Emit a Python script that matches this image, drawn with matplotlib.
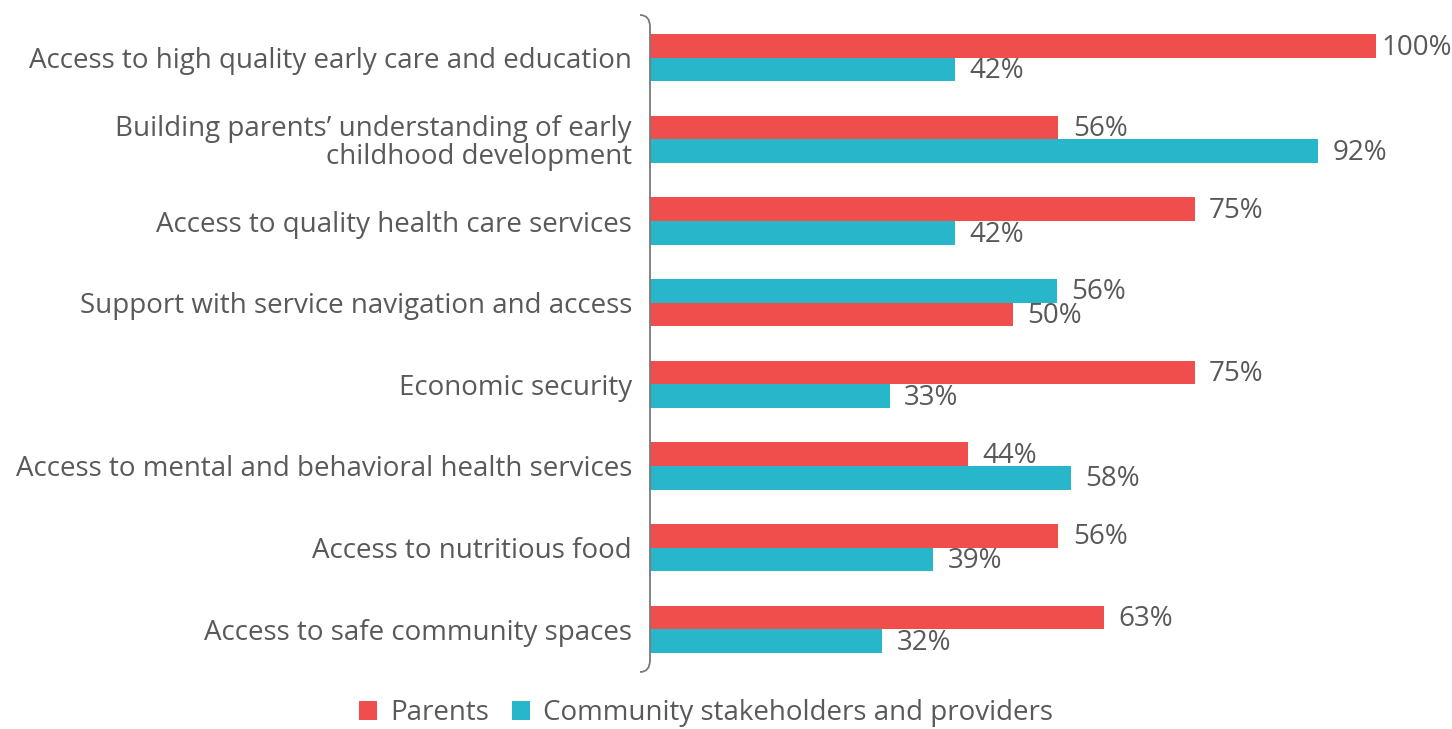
import matplotlib
matplotlib.use("Agg")
import matplotlib.pyplot as plt
from matplotlib.path import Path
from matplotlib.patches import PathPatch, Patch

categories = [
    "Access to high quality early care and education",
    "Building parents’ understanding of early\nchildhood development",
    "Access to quality health care services",
    "Support with service navigation and access",
    "Economic security",
    "Access to mental and behavioral health services",
    "Access to nutritious food",
    "Access to safe community spaces",
]
parents = [100, 56.25, 75, 50, 75, 43.75, 56.25, 62.5]
community = [42, 92, 42, 56, 33, 58, 39, 32]
# which series sits on top in each group (the reference swaps one group)
parents_on_top = [True, True, True, False, True, True, True, True]
series_names = ["Parents", "Community stakeholders and providers"]

RED = "#F04D4D"
CYAN = "#27B6CA"
TXT = "#595959"
FONT = "Open Sans"
FS = 20

W, H = 1452, 729
fig = plt.figure(figsize=(W / 100, H / 100), dpi=100)
ax_left, ax_right = 650, 1376
ax_top, ax_bot = 17, 670
ax = fig.add_axes([ax_left / W, 1 - ax_bot / H, (ax_right - ax_left) / W, (ax_bot - ax_top) / H])

bh = 0.29
for i, (p, c, top) in enumerate(zip(parents, community, parents_on_top)):
    yp = i - bh / 2 if top else i + bh / 2
    yc = i + bh / 2 if top else i - bh / 2
    ax.barh(yp, p, height=bh, color=RED, edgecolor="none")
    ax.barh(yc, c, height=bh, color=CYAN, edgecolor="none")
    gp = 0.7 if p >= 100 else 2.0
    ax.text(p + gp, yp + 0.02, f"{int(p + 0.5)}%", va="center", ha="left",
            fontsize=FS, color=TXT, family=FONT, clip_on=False)
    ax.text(c + 2.0, yc + 0.02, f"{int(c + 0.5)}%", va="center", ha="left",
            fontsize=FS, color=TXT, family=FONT, clip_on=False)

ax.set_xlim(0, 100)
ax.set_ylim(len(categories) - 0.5, -0.5)
ax.set_yticks(range(len(categories)))
ax.set_yticklabels(categories, fontsize=FS, color=TXT, family=FONT, linespacing=1.0)
ax.tick_params(axis="y", length=0, pad=13)
ax.set_xticks([])
for s in ax.spines.values():
    s.set_visible(False)

# bracket-like left axis line
def fx(px):
    return px / W

def fy(py):
    return 1 - py / H

verts = [(fx(640), fy(15)), (fx(650), fy(15)), (fx(650), fy(27)),
         (fx(650), fy(660)), (fx(650), fy(672)), (fx(640), fy(672))]
codes = [Path.MOVETO, Path.CURVE3, Path.CURVE3, Path.LINETO, Path.CURVE3, Path.CURVE3]
fig.add_artist(PathPatch(Path(verts, codes), transform=fig.transFigure,
                         facecolor="none", edgecolor="#7a7a7a", lw=1.3))

handles = [Patch(facecolor=RED, edgecolor="none"), Patch(facecolor=CYAN, edgecolor="none")]
fig.legend(handles, series_names, loc="center", bbox_to_anchor=(706 / W, 1 - 713 / H),
           ncol=2, frameon=False, handlelength=0.65, handleheight=0.65,
           handletextpad=0.45, columnspacing=0.85,
           prop={"family": FONT, "size": FS}, labelcolor=TXT)

fig.savefig("out.png", dpi=100)
